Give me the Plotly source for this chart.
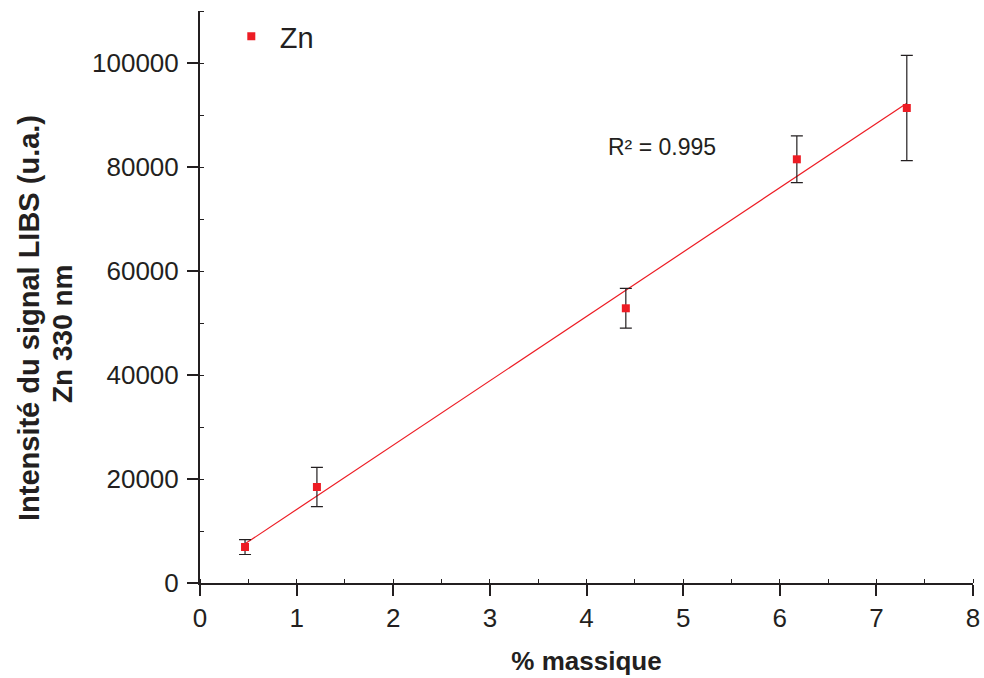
import numpy as np
import plotly.graph_objects as go

# Data
mass_pct = [0.466, 1.21, 4.407, 6.177, 7.315]
intensity = [6920, 18460, 52830, 81480, 91350]
intensity_err = [1440, 3790, 3810, 4490, 10130]
series_name = "Zn"
r2_label = "R² = 0.995"
y_title_1 = "Intensité du signal LIBS (u.a.)"
y_title_2 = "Zn 330 nm"

x_ticks = [0, 1, 2, 3, 4, 5, 6, 7, 8]
y_ticks = [0, 20000, 40000, 60000, 80000, 100000]

# linear fit computed from the data
slope, intercept = np.polyfit(mass_pct, intensity, 1)
fit_x = np.array([min(mass_pct), max(mass_pct)])
fit_y = slope * fit_x + intercept

AX = "#231f20"
RED = "#ed1c24"
FONT = "Liberation Sans, Arial, sans-serif"

fig = go.Figure()
fig.add_trace(go.Scatter(
    x=fit_x, y=fit_y, mode="lines",
    line=dict(color=RED, width=1.2),
    showlegend=False, hoverinfo="skip",
))
fig.add_trace(go.Scatter(
    x=mass_pct, y=intensity, mode="markers", name=series_name,
    marker=dict(symbol="square", size=8, color=RED),
    error_y=dict(type="data", array=intensity_err, visible=True,
                 color=AX, thickness=1.2, width=6),
))

fig.update_layout(
    width=984, height=678,
    paper_bgcolor="white", plot_bgcolor="white",
    margin=dict(l=200, r=11, t=11, b=95, autoexpand=False),
    font=dict(family=FONT, color=AX, size=26),
    showlegend=True,
    legend=dict(x=0.0295, y=1.0, xanchor="left", yanchor="top",
                font=dict(size=29, color=AX), bgcolor="rgba(0,0,0,0)",
                itemwidth=47),
    xaxis=dict(
        range=[0, 8], tickvals=x_ticks, showgrid=False, zeroline=False,
        showline=True, linecolor=AX, linewidth=2, automargin=False,
        ticks="outside", ticklen=11, tickwidth=2, tickcolor=AX,
        tickfont=dict(size=26),
        minor=dict(dtick=0.5, ticks="inside", ticklen=4, tickwidth=1, tickcolor=AX),
        title=dict(text="<b>% massique</b>", font=dict(size=26), standoff=20),
    ),
    yaxis=dict(
        range=[0, 110000], tickvals=y_ticks, showgrid=False, zeroline=False,
        showline=True, linecolor=AX, linewidth=2, automargin=False,
        ticks="outside", ticklen=11, tickwidth=2, tickcolor=AX,
        tickfont=dict(size=26), tickformat="d", ticklabelstandoff=3,
        minor=dict(dtick=10000, ticks="inside", ticklen=4, tickwidth=1, tickcolor=AX),
    ),
    annotations=[
        dict(text="<b>" + y_title_1 + "</b>",
             xref="paper", yref="paper", x=0, y=(583 - 318) / 572,
             xanchor="center", yanchor="middle",
             xshift=-171, textangle=-90, showarrow=False,
             font=dict(size=29, color=AX)),
        dict(text="<b>" + y_title_2 + "</b>",
             xref="paper", yref="paper", x=0, y=(583 - 334) / 572,
             xanchor="center", yanchor="middle",
             xshift=-138, textangle=-90, showarrow=False,
             font=dict(size=28, color=AX)),
        dict(text=r2_label, xref="x", yref="y", x=4.2, y=83850,
             xanchor="left", yanchor="middle", showarrow=False,
             font=dict(size=23, color=AX)),
    ],
)

fig.write_html("out.html", config={"displayModeBar": False},
               post_script="document.body.style.margin='0px';")
